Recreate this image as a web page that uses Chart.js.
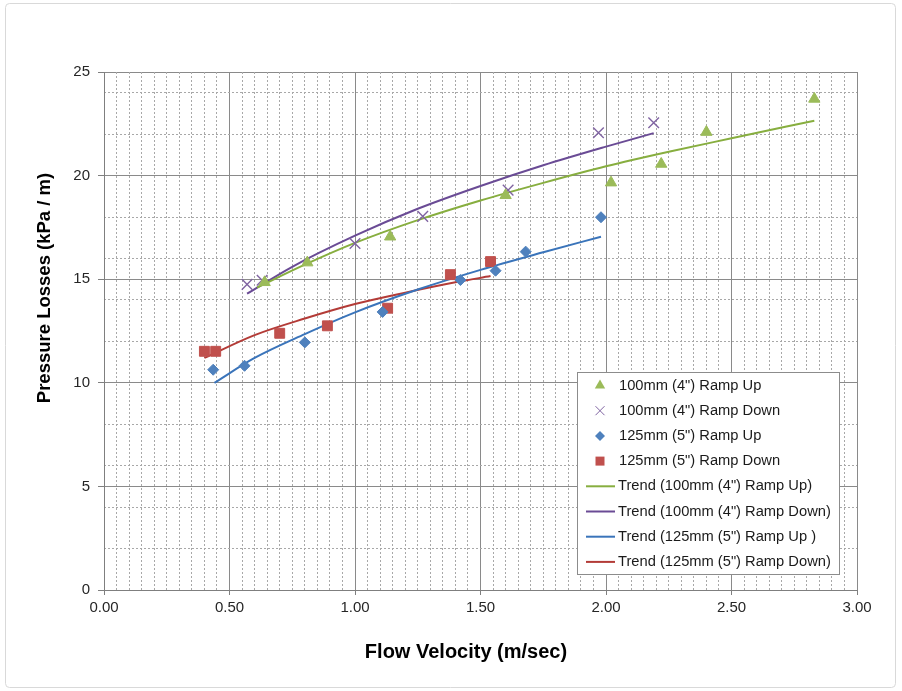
<!DOCTYPE html>
<html>
<head>
<meta charset="utf-8">
<title>Pressure Losses vs Flow Velocity</title>
<script src="https://cdn.jsdelivr.net/npm/chart.js@4.4.1/dist/chart.umd.min.js"></script>
<style>
  html, body { margin: 0; padding: 0; background: #ffffff; }
  #wrap { position: relative; width: 902px; height: 691px; }
</style>
</head>
<body>
<div id="wrap"><canvas id="chart"></canvas></div>
<script>
// ---------------- DATA ----------------
const xTicks = [0, 0.5, 1.0, 1.5, 2.0, 2.5, 3.0];
const yTicks = [0, 5, 10, 15, 20, 25];
const xTitle = 'Flow Velocity (m/sec)';
const yTitle = 'Pressure Losses (kPa / m)';

const seriesNames = [
  '100mm (4") Ramp Up',
  '100mm (4") Ramp Down',
  '125mm (5") Ramp Up',
  '125mm (5") Ramp Down',
  'Trend (100mm (4") Ramp Up)',
  'Trend (100mm (4") Ramp Down)',
  'Trend (125mm (5") Ramp Up )',
  'Trend (125mm (5") Ramp Down)'
];

// 100mm (4") Ramp Up  (green triangles)
const up100X = [0.64, 0.81, 1.14, 1.60, 2.02, 2.22, 2.40, 2.83];
const up100Y = [14.85, 15.80, 17.05, 19.05, 19.66, 20.56, 22.10, 23.70];
// 100mm (4") Ramp Down  (purple crosses)
const down100X = [0.57, 0.63, 1.00, 1.27, 1.61, 1.97, 2.19];
const down100Y = [14.75, 14.95, 16.72, 18.03, 19.30, 22.07, 22.55];
// 125mm (5") Ramp Up  (blue diamonds)
const up125X = [0.435, 0.56, 0.80, 1.11, 1.42, 1.56, 1.68, 1.98];
const up125Y = [10.63, 10.82, 11.95, 13.42, 14.96, 15.41, 16.33, 17.99];
// 125mm (5") Ramp Down  (red squares)
const down125X = [0.40, 0.445, 0.70, 0.89, 1.13, 1.38, 1.54];
const down125Y = [11.52, 11.52, 12.39, 12.75, 13.60, 15.22, 15.85];

// Trend lines, points
const trendUp100X = [0.61, 0.80, 1.00, 1.25, 1.50, 1.75, 2.00, 2.25, 2.50, 2.83];
const trendUp100Y = [14.60, 15.70, 16.75, 17.85, 18.80, 19.65, 20.45, 21.15, 21.80, 22.65];
const trendDown100X = [0.57, 0.75, 1.00, 1.25, 1.50, 1.75, 2.00, 2.19];
const trendDown100Y = [14.30, 15.60, 17.10, 18.40, 19.50, 20.50, 21.40, 22.05];
const trendUp125X = [0.44, 0.60, 0.80, 1.00, 1.25, 1.50, 1.75, 1.98];
const trendUp125Y = [10.00, 11.20, 12.35, 13.40, 14.50, 15.45, 16.30, 17.05];
const trendDown125X = [0.40, 0.60, 0.80, 1.00, 1.20, 1.40, 1.54];
const trendDown125Y = [11.20, 12.30, 13.10, 13.80, 14.35, 14.85, 15.15];

// ---------------- STYLE ----------------
const FONT = '"Liberation Sans", Arial, Helvetica, sans-serif';
const C_GREEN = '#9bbb59', C_PURPLE = '#8064a2', C_BLUE = '#4f81bd', C_RED = '#c0504d';
const T_GREEN = '#87ae3f', T_PURPLE = '#6a4b95', T_BLUE = '#3a74ba', T_RED = '#b33b37';

const pts = (xs, ys) => xs.map((x, i) => ({ x: x, y: ys[i] }));

function markerSet(label, xs, ys, style, color, radius, bw) {
  return {
    type: 'scatter', label: label, data: pts(xs, ys), showLine: false,
    pointStyle: style, pointRadius: radius, pointHoverRadius: radius,
    pointBackgroundColor: color, pointBorderColor: color, pointBorderWidth: bw,
    borderColor: color, backgroundColor: color
  };
}
function trendSet(label, xs, ys, color) {
  return {
    type: 'scatter', label: label, data: pts(xs, ys), showLine: true,
    borderColor: color, backgroundColor: color, borderWidth: 2,
    pointRadius: 0, pointHoverRadius: 0, cubicInterpolationMode: 'monotone',
    isTrend: true
  };
}

const datasets = [
  markerSet(seriesNames[0], up100X, up100Y, 'triangle', C_GREEN, 6.5, 1),
  markerSet(seriesNames[1], down100X, down100Y, 'crossRot', C_PURPLE, 7.5, 1.4),
  markerSet(seriesNames[2], up125X, up125Y, 'rectRot', C_BLUE, 5.5, 1),
  markerSet(seriesNames[3], down125X, down125Y, 'rect', C_RED, 7, 1),
  trendSet(seriesNames[4], trendUp100X, trendUp100Y, T_GREEN),
  trendSet(seriesNames[5], trendDown100X, trendDown100Y, T_PURPLE),
  trendSet(seriesNames[6], trendUp125X, trendUp125Y, T_BLUE),
  trendSet(seriesNames[7], trendDown125X, trendDown125Y, T_RED)
];

// ---------------- decoration plugin: frame, axis titles, legend box ----------------
function drawMarker(ctx, style, x, y, color) {
  ctx.save();
  ctx.fillStyle = color; ctx.strokeStyle = color;
  ctx.beginPath();
  if (style === 'triangle') {
    ctx.moveTo(x, y - 6); ctx.lineTo(x + 5.2, y + 3); ctx.lineTo(x - 5.2, y + 3); ctx.closePath(); ctx.fill();
  } else if (style === 'crossRot') {
    ctx.lineWidth = 1;
    ctx.moveTo(x - 4.5, y - 4.5); ctx.lineTo(x + 4.5, y + 4.5);
    ctx.moveTo(x - 4.5, y + 4.5); ctx.lineTo(x + 4.5, y - 4.5); ctx.stroke();
  } else if (style === 'rectRot') {
    ctx.moveTo(x, y - 5); ctx.lineTo(x + 5, y); ctx.lineTo(x, y + 5); ctx.lineTo(x - 5, y); ctx.closePath(); ctx.fill();
  } else {
    ctx.rect(x - 4.5, y - 4.5, 9, 9); ctx.fill();
  }
  ctx.restore();
}

const decor = {
  id: 'decor',
  beforeDraw(chart) {
    const ctx = chart.ctx;
    ctx.save();
    ctx.fillStyle = '#ffffff';
    ctx.fillRect(0, 0, chart.width, chart.height);
    ctx.strokeStyle = '#d9d9d9'; ctx.lineWidth = 1;
    ctx.beginPath();
    if (ctx.roundRect) ctx.roundRect(5.5, 3.5, 890, 684, 4); else ctx.rect(5.5, 3.5, 890, 684);
    ctx.stroke();
    ctx.restore();
  },
  afterDraw(chart) {
    const ctx = chart.ctx, a = chart.chartArea;
    // axis titles
    ctx.save();
    ctx.fillStyle = '#000000';
    ctx.textAlign = 'center'; ctx.textBaseline = 'middle';
    ctx.font = 'bold 20px ' + FONT;
    ctx.fillText(xTitle, a.left + 362, a.bottom + 62);
    ctx.font = 'bold 18.5px ' + FONT;
    ctx.translate(45, a.top + 216);
    ctx.rotate(-Math.PI / 2);
    ctx.fillText(yTitle, 0, 0);
    ctx.restore();

    // legend
    const lx = a.right - 280, ly = a.bottom - 218, lw = 262, lh = 202;
    ctx.save();
    ctx.fillStyle = '#ffffff';
    ctx.fillRect(lx, ly, lw, lh);
    ctx.strokeStyle = '#8c8c8c'; ctx.lineWidth = 1;
    ctx.strokeRect(Math.round(lx) + 0.5, Math.round(ly) + 0.5, lw, lh);
    ctx.font = '14.7px ' + FONT;
    ctx.textAlign = 'left'; ctx.textBaseline = 'middle';
    chart.data.datasets.forEach((ds, i) => {
      const cy = ly + 13.5 + i * 25.2;
      if (ds.isTrend) {
        ctx.strokeStyle = ds.borderColor; ctx.lineWidth = 2;
        ctx.beginPath(); ctx.moveTo(lx + 9, cy); ctx.lineTo(lx + 38, cy); ctx.stroke();
        ctx.fillStyle = '#1a1a1a';
        ctx.fillText(ds.label, lx + 41, cy);
      } else {
        drawMarker(ctx, ds.pointStyle, lx + 23, cy, ds.pointBackgroundColor);
        ctx.fillStyle = '#1a1a1a';
        ctx.fillText(ds.label, lx + 42, cy);
      }
    });
    ctx.restore();
  }
};

const near = (v, step) => Math.abs(v / step - Math.round(v / step)) < 1e-6;

new Chart(document.getElementById('chart'), {
  type: 'scatter',
  data: { datasets: datasets },
  plugins: [decor],
  options: {
    responsive: true,
    maintainAspectRatio: false,
    animation: false,
    events: [],
    layout: { padding: { left: 64, right: 45, top: 72, bottom: 71 } },
    font: { family: FONT },
    plugins: { legend: { display: false }, tooltip: { enabled: false }, title: { display: false } },
    scales: {
      x: {
        type: 'linear', position: 'bottom', min: 0, max: 3,
        afterBuildTicks: s => { s.ticks = xTicks.map(v => ({ value: v })); },
        afterFit: s => { s.height = 30; },
        ticks: { color: '#262626', font: { family: FONT, size: 15 }, padding: 4, maxRotation: 0,
                 callback: v => Number(v).toFixed(2) },
        grid: { color: '#8a8a8a', lineWidth: 1, drawTicks: true, tickLength: 5, tickColor: '#7f7f7f' },
        border: { display: true, color: '#7f7f7f', width: 1 }
      },
      y: {
        type: 'linear', position: 'left', min: 0, max: 25,
        afterBuildTicks: s => { s.ticks = yTicks.map(v => ({ value: v })); },
        afterFit: s => { s.width = 40; },
        ticks: { color: '#262626', font: { family: FONT, size: 15 }, padding: 8 },
        grid: { color: '#8a8a8a', lineWidth: 1, drawTicks: true, tickLength: 6, tickColor: '#7f7f7f' },
        border: { display: true, color: '#7f7f7f', width: 1 }
      },
      xMinor: {
        type: 'linear', position: 'top', min: 0, max: 3,
        afterFit: s => { s.height = 0; },
        ticks: { display: false, stepSize: 0.05 },
        grid: {
          drawTicks: false,
          color: c => near(c.tick.value, 0.5) ? 'rgba(0,0,0,0)' : '#a8a8a8',
          lineWidth: 1
        },
        border: { display: false, dash: [2, 2] }
      },
      yMinor: {
        type: 'linear', position: 'right', min: 0, max: 25,
        afterFit: s => { s.width = 0; },
        ticks: { display: false, stepSize: 2 },
        grid: {
          drawTicks: false,
          color: c => (near(c.tick.value, 5)) ? 'rgba(0,0,0,0)' : '#a8a8a8',
          lineWidth: 1
        },
        border: { display: false, dash: [2, 2] }
      }
    }
  }
});
</script>
</body>
</html>
